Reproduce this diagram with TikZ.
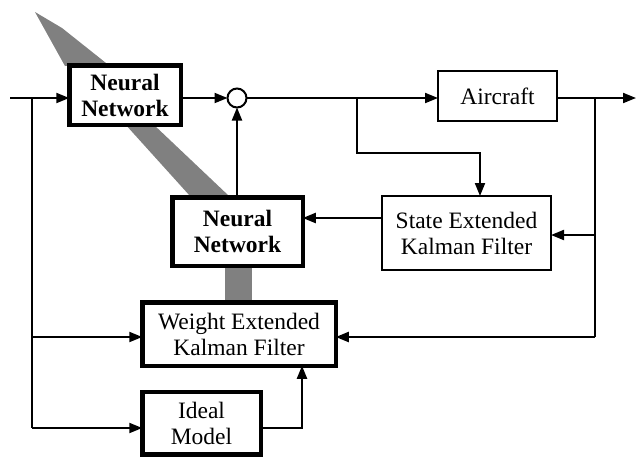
\documentclass[tikz,border=0pt]{standalone}
\usepackage{fontspec}
\setmainfont{Liberation Serif}
\usetikzlibrary{arrows.meta}
\begin{document}
\begin{tikzpicture}[x=1pt,y=-1pt,
  every node/.style={inner sep=0pt,outer sep=0pt,align=center,font=\fontsize{23.5}{26}\selectfont},
  thickbox/.style={draw,line width=4.5pt,fill=white,font=\fontsize{23.5}{26}\selectfont\bfseries},
  thickboxr/.style={draw,line width=4.5pt,fill=white},
  thinbox/.style={draw,line width=2pt,fill=white},
  wire/.style={line width=2pt},
  arr/.style={wire,-{Triangle[length=13pt,width=10pt]}},
  shade/.style={fill=black!50}]
\useasboundingbox (0,0) rectangle (637,459);
% shaded bands
\fill[shade] (35,12) -- (62,28) -- (106,63) -- (65,66) -- cycle;
\fill[shade] (125,124) -- (153,124) -- (229,196) -- (190,196) -- cycle;
\fill[shade] (225,266) rectangle (252,302);
% boxes
\node[thickbox,minimum width=111.5pt,minimum height=59.5pt] (nn1) at (125,95) {Neural\\Network};
\node[thickbox,minimum width=130.5pt,minimum height=68.5pt] (nn2) at (237.5,231.5) {Neural\\Network};
\node[thickboxr,minimum width=193.5pt,minimum height=63.5pt] (wekf) at (239,334) {Weight Extended\\Kalman Filter};
\node[thickboxr,minimum width=118.5pt,minimum height=62.5pt] (ideal) at (201.5,423) {Ideal\\Model};
\node[thinbox,minimum width=119pt,minimum height=50pt] (air) at (497.5,96) {Aircraft};
\node[thinbox,minimum width=169pt,minimum height=74pt] (sekf) at (466.5,233) {State Extended\\Kalman Filter};
\node[draw,circle,wire,minimum size=19pt,fill=white] (sum) at (237,98) {};
% coordinates
\coordinate (in) at (10,98);
\coordinate (jin) at (32,98);
\coordinate (jin2) at (32,337);
\coordinate (jin3) at (32,428);
\coordinate (ju) at (357,98);
\coordinate (jo) at (595,98);
\coordinate (out) at (636,98);
\coordinate (jo2) at (595,235);
\coordinate (jo3) at (595,337);
% connectors
\draw[arr] (in) -- (nn1.west |- in);
\draw[wire] (jin) -- (jin3);
\draw[arr] (jin2) -- (wekf.west |- jin2);
\draw[arr] (jin3) -- (ideal.west |- jin3);
\draw[arr] (nn1.east |- sum) -- (sum.west);
\draw[arr] (nn2.north -| sum) -- (sum.south);
\draw[arr] (sum.east) -- (air.west |- sum);
\draw[arr] (ju) -- (357,153) -| (sekf.north -| 480,0);
\draw[arr] (air.east |- jo) -- (out);
\draw[wire] (jo) -- (jo3);
\draw[arr] (jo2) -- (sekf.east |- jo2);
\draw[arr] (jo3) -- (wekf.east |- jo3);
\draw[arr] (sekf.west |- 0,218) -- (nn2.east |- 0,218);
\draw[arr] (ideal.east |- 0,428) -| (wekf.south -| 302,0);
\end{tikzpicture}
\end{document}
